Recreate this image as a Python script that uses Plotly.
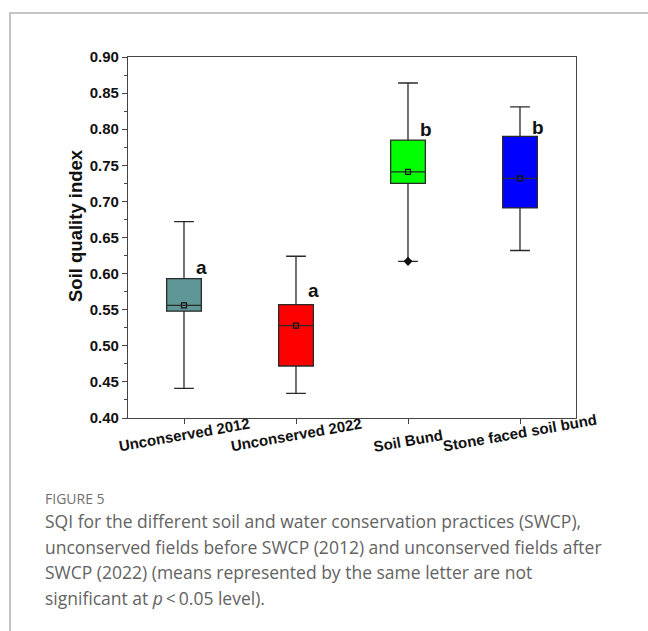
import plotly.graph_objects as go

categories = ["Unconserved 2012", "Unconserved 2022", "Soil Bund", "Stone faced soil bund"]
q1 = [0.548, 0.472, 0.725, 0.691]
median = [0.556, 0.528, 0.741, 0.732]
q3 = [0.593, 0.557, 0.785, 0.790]
lower = [0.441, 0.434, 0.617, 0.632]
upper = [0.672, 0.624, 0.864, 0.831]
means = [0.556, 0.528, 0.741, 0.732]
letters = ["a", "a", "b", "b"]
letter_y = [0.608, 0.577, 0.800, 0.802]
extra_cat = ["Soil Bund"]
extra_val = [0.617]
colors = ["#5F9696", "#FF0000", "#00FF00", "#0000FF"]
y_ticks = [0.40, 0.45, 0.50, 0.55, 0.60, 0.65, 0.70, 0.75, 0.80, 0.85, 0.90]

W, H = 648, 631
L, R, T, B = 128, 72, 57, 213
PW, PH = W - L - R, H - T - B


def px2x(px):
    return (px - L) / PW


def px2y(py):
    return (H - B - py) / PH


fig = go.Figure()
for i, c in enumerate(categories):
    fig.add_trace(go.Box(
        x=[c], q1=[q1[i]], median=[median[i]], q3=[q3[i]],
        lowerfence=[lower[i]], upperfence=[upper[i]],
        fillcolor=colors[i], line=dict(color="#2a2a2a", width=1.3),
        width=0.31, whiskerwidth=0.57, boxpoints=False, showlegend=False,
        hoverinfo="skip",
    ))

fig.add_trace(go.Scatter(
    x=categories, y=means, mode="markers",
    marker=dict(symbol="square-open", size=5, color="#111111", line=dict(width=1.2)),
    showlegend=False, hoverinfo="skip",
))
fig.add_trace(go.Scatter(
    x=extra_cat, y=extra_val, mode="markers",
    marker=dict(symbol="diamond", size=7, color="#111111"),
    showlegend=False, hoverinfo="skip",
))

font_b = "Liberation Sans, Arial, sans-serif"
annotations = []
for i, c in enumerate(categories):
    annotations.append(dict(
        x=i + 0.16, y=letter_y[i], xref="x", yref="y", text="<b>%s</b>" % letters[i],
        showarrow=False, font=dict(family=font_b, size=19, color="#111111"),
    ))
    annotations.append(dict(
        x=c, y=px2y(457), xref="x", yref="paper", text="<b>%s</b>" % c,
        showarrow=False, textangle=-10, font=dict(family=font_b, size=15, color="#111111"),
    ))

annotations.append(dict(
    x=px2x(75), y=px2y(226), xref="paper", yref="paper", text="<b>Soil quality index</b>",
    showarrow=False, textangle=-90, xanchor="center", yanchor="middle",
    font=dict(family=font_b, size=18.5, color="#111111"),
))

cap_font = "Open Sans, Noto Sans, sans-serif"
annotations.append(dict(
    x=px2x(43), y=px2y(498), xref="paper", yref="paper", text="FIGURE 5",
    showarrow=False, xanchor="left", yanchor="middle",
    font=dict(family=cap_font, size=14, color="#707070"),
))
caption_lines = [
    "SQI for the different soil and water conservation practices (SWCP),",
    "unconserved fields before SWCP (2012) and unconserved fields after",
    "SWCP (2022) (means represented by the same letter are not",
    "significant at <i>p</i>\u2009<\u20090.05 level).",
]
for k, line in enumerate(caption_lines):
    annotations.append(dict(
        x=px2x(43), y=px2y(521 + 25.7 * k), xref="paper", yref="paper", text=line,
        showarrow=False, xanchor="left", yanchor="middle",
        font=dict(family=cap_font, size=17.5, color="#636363"),
    ))

shapes = [
    dict(type="line", xref="paper", yref="paper", x0=px2x(9), x1=px2x(W + 5), y0=px2y(13), y1=px2y(13),
         line=dict(color="#c4c4c4", width=2)),
    dict(type="line", xref="paper", yref="paper", x0=px2x(10), x1=px2x(10), y0=px2y(13), y1=px2y(H + 5),
         line=dict(color="#c4c4c4", width=2)),
]

fig.update_layout(
    width=W, height=H,
    margin=dict(l=L, r=R, t=T, b=B, autoexpand=False),
    paper_bgcolor="white", plot_bgcolor="white",
    boxmode="overlay",
    annotations=annotations, shapes=shapes,
    xaxis=dict(
        type="category", categoryorder="array", categoryarray=categories,
        range=[-0.5, 3.5], showticklabels=False, ticks="outside", ticklen=5,
        tickcolor="#444444", showline=True, linecolor="#444444", linewidth=1.3,
        mirror=True, showgrid=False, zeroline=False,
    ),
    yaxis=dict(
        range=[0.40, 0.90], tickvals=y_ticks, tickformat=".2f", ticks="outside", ticklen=5,
        tickcolor="#444444", showline=True, linecolor="#444444", linewidth=1.3,
        mirror=True, showgrid=False, zeroline=False,
        tickfont=dict(family=font_b, size=15, color="#111111", weight="bold"),
        minor=dict(dtick=0.025, ticks="outside", ticklen=3, tickcolor="#444444"),
    ),
)

fig.write_html("out.html", config={"displayModeBar": False},
               post_script="document.body.style.margin='0';document.body.style.overflow='hidden';")
